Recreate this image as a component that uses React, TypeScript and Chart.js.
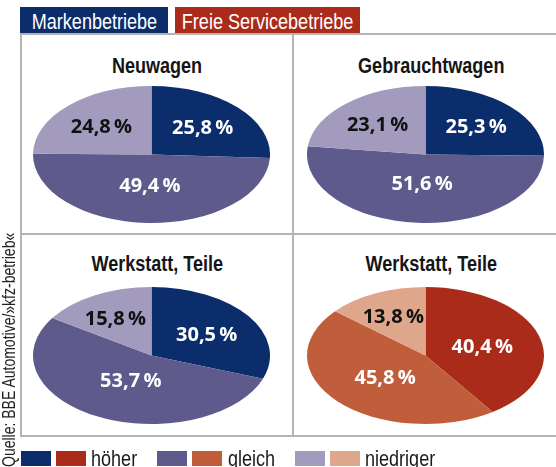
import { useEffect, useRef } from "react";
import { Chart, registerables } from "chart.js";

Chart.register(...registerables);

// ---- data ----
const categories = ["höher", "gleich", "niedriger"];
const groupLabels = ["Markenbetriebe", "Freie Servicebetriebe"];
const panelTitles = ["Neuwagen", "Gebrauchtwagen", "Werkstatt, Teile", "Werkstatt, Teile"];
const neuwagen = [25.8, 49.4, 24.8];
const gebrauchtwagen = [25.3, 51.6, 23.1];
const werkstattMarken = [30.5, 53.7, 15.8];
const werkstattFreie = [40.4, 45.8, 13.8];
const sourceText = "Quelle: BBE Automotive/»kfz-betrieb«";

// ---- styles ----
const markenColors = ["#0c2d6b", "#5e5a8c", "#a29bbe"];
const freieColors = ["#ab2b1a", "#c05e3c", "#dea78c"];
const labelColors = ["#ffffff", "#ffffff", "#111111"];
const FONT = '"Liberation Sans", Arial, sans-serif';
const SQUEEZE = 0.82;
const LINE = "#b4b4b4";
const SIZE = 237;
const K = 68.5 / 118.5;

const fmt = (v: number) => v.toFixed(1).replace(".", ",") + "\u2009%";

const ellipsePlugin = {
  id: "ellipsePie",
  beforeDatasetsDraw(chart: any) {
    const arc = chart.getDatasetMeta(0).data[0] as any;
    const ctx = chart.ctx;
    ctx.save();
    ctx.translate(arc.x, arc.y);
    ctx.scale(1, K);
    ctx.translate(-arc.x, -arc.y);
  },
  afterDatasetsDraw(chart: any) {
    const ctx = chart.ctx;
    ctx.restore();
    const meta = chart.getDatasetMeta(0);
    const values = chart.data.datasets[0].data as number[];
    ctx.save();
    ctx.font = 'bold 20px "Open Sans", sans-serif';
    ctx.textAlign = "center";
    ctx.textBaseline = "middle";
    meta.data.forEach((el: any, i: number) => {
      const p = el.getProps(["x", "y", "startAngle", "endAngle", "outerRadius"], true);
      const theta = p.endAngle - p.startAngle;
      const mid = (p.startAngle + p.endAngle) / 2;
      const f = ((2 / 3) * Math.sin(theta / 2)) / (theta / 2);
      const px = p.x + Math.cos(mid) * f * p.outerRadius;
      const py = p.y + Math.sin(mid) * f * p.outerRadius * K + 2;
      ctx.fillStyle = labelColors[i];
      ctx.fillText(fmt(values[i]), px, py);
    });
    ctx.restore();
  },
};

function Pie({ values, colors, left, top }: { values: number[]; colors: string[]; left: number; top: number }) {
  const ref = useRef<HTMLCanvasElement>(null);
  useEffect(() => {
    const chart = new Chart(ref.current as HTMLCanvasElement, {
      type: "pie",
      data: {
        labels: categories,
        datasets: [{ data: values, backgroundColor: colors, borderWidth: 0 }],
      },
      options: {
        responsive: false,
        animation: false,
        layout: { padding: 0 },
        plugins: { legend: { display: false }, tooltip: { enabled: false } },
      },
      plugins: [ellipsePlugin],
    });
    return () => chart.destroy();
  }, []);
  return (
    <canvas
      ref={ref}
      width={SIZE}
      height={SIZE}
      style={{ position: "absolute", left, top, width: SIZE, height: SIZE }}
    />
  );
}

const abs = (s: any) => ({ position: "absolute" as const, ...s });

function Narrow({ children, origin = "center" }: { children: any; origin?: string }) {
  return (
    <span style={{ display: "inline-block", transform: `scaleX(${SQUEEZE})`, transformOrigin: origin, whiteSpace: "nowrap", flex: "none" }}>
      {children}
    </span>
  );
}

export default function App() {
  const centered = {
    display: "flex",
    justifyContent: "center",
    whiteSpace: "nowrap" as const,
    overflow: "visible",
  };
  const titleStyle = {
    ...centered,
    fontFamily: FONT,
    fontWeight: "bold",
    fontSize: 22,
    lineHeight: "24px",
    color: "#151515",
  };
  const tabStyle = {
    ...centered,
    top: 7,
    height: 26,
    color: "#fff",
    fontFamily: FONT,
    fontSize: 22,
    lineHeight: "30px",
  };
  const legendText = {
    fontFamily: FONT,
    fontSize: 22,
    lineHeight: "24px",
    color: "#1a1a1a",
    whiteSpace: "nowrap" as const,
  };
  const sq = (left: number, c: string) => <div style={abs({ left, top: 451, width: 30, height: 15, background: c })} />;
  return (
    <div style={abs({ left: 0, top: 0, width: 556, height: 467, overflow: "hidden", background: "#fff" })}>
      {/* header tabs */}
      <div style={abs({ ...tabStyle, left: 20, width: 148, background: markenColors[0] })}>
        <Narrow>{groupLabels[0]}</Narrow>
      </div>
      <div style={abs({ ...tabStyle, left: 175, width: 185, background: freieColors[0] })}>
        <Narrow>{groupLabels[1]}</Narrow>
      </div>
      {/* grid lines */}
      <div style={abs({ left: 20, top: 33, width: 536, height: 2, background: LINE })} />
      <div style={abs({ left: 20, top: 233, width: 536, height: 2, background: LINE })} />
      <div style={abs({ left: 20, top: 435, width: 536, height: 2, background: LINE })} />
      <div style={abs({ left: 20, top: 33, width: 2, height: 404, background: LINE })} />
      <div style={abs({ left: 292, top: 33, width: 2, height: 404, background: LINE })} />
      {/* titles */}
      <div style={abs({ ...titleStyle, left: 22, top: 54, width: 271 })}><Narrow>{panelTitles[0]}</Narrow></div>
      <div style={abs({ ...titleStyle, left: 295, top: 54, width: 272 })}><Narrow>{panelTitles[1]}</Narrow></div>
      <div style={abs({ ...titleStyle, left: 22, top: 252, width: 271 })}><Narrow>{panelTitles[2]}</Narrow></div>
      <div style={abs({ ...titleStyle, left: 295, top: 252, width: 272 })}><Narrow>{panelTitles[3]}</Narrow></div>
      {/* pies */}
      <Pie values={neuwagen} colors={markenColors} left={33} top={36} />
      <Pie values={gebrauchtwagen} colors={markenColors} left={307} top={36} />
      <Pie values={werkstattMarken} colors={markenColors} left={33} top={237} />
      <Pie values={werkstattFreie} colors={freieColors} left={307} top={237} />
      {/* legend */}
      {sq(21, markenColors[0])}
      {sq(56, freieColors[0])}
      <div style={abs({ ...legendText, left: 91, top: 447 })}><Narrow origin="left">{categories[0]}</Narrow></div>
      {sq(157, markenColors[1])}
      {sq(192, freieColors[1])}
      <div style={abs({ ...legendText, left: 228, top: 447 })}><Narrow origin="left">{categories[1]}</Narrow></div>
      {sq(295, markenColors[2])}
      {sq(330, freieColors[2])}
      <div style={abs({ ...legendText, left: 365, top: 447 })}><Narrow origin="left">{categories[2]}</Narrow></div>
      {/* source */}
      <div
        style={abs({
          left: 0,
          top: 467,
          transform: `rotate(-90deg) scaleX(0.8)`,
          transformOrigin: "0 0",
          fontFamily: FONT,
          fontSize: 17.5,
          lineHeight: "18px",
          color: "#222",
          whiteSpace: "nowrap",
        })}
      >
        {sourceText}
      </div>
    </div>
  );
}
